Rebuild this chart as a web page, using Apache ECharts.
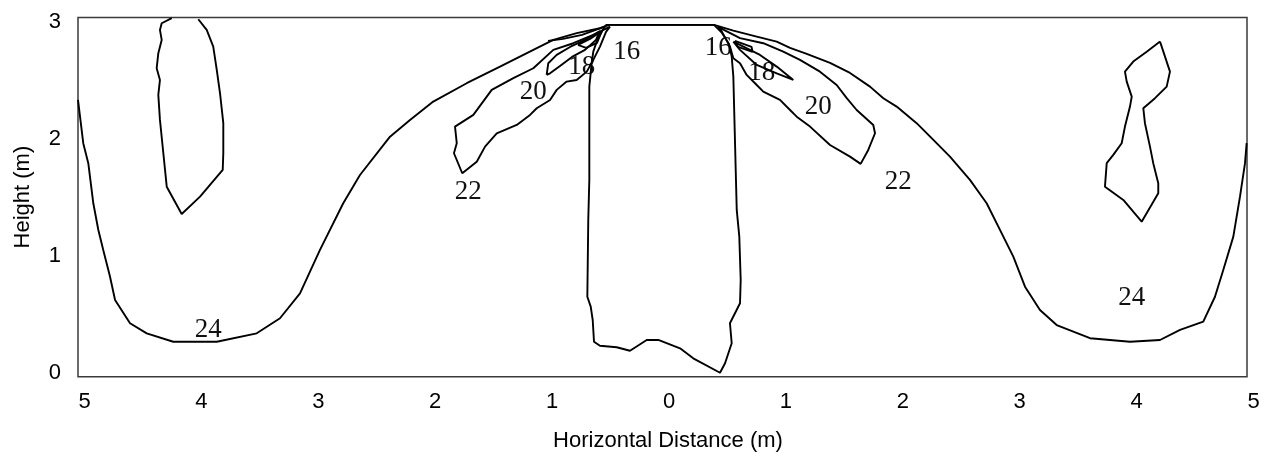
<!DOCTYPE html>
<html>
<head>
<meta charset="utf-8">
<script src="https://cdn.jsdelivr.net/npm/echarts@6/dist/echarts.min.js"></script>
<style>
  html, body { margin: 0; padding: 0; background: #fff; }
  #chart { width: 1272px; height: 466px; }
</style>
</head>
<body>
<div id="chart"></div>
<script>
// Axis tick positions (horizontal distance shown as absolute value either side of 0)
const xTickValues = [-5, -4, -3, -2, -1, 0, 1, 2, 3, 4, 5];
const yTickValues = [0, 1, 2, 3];

// Contour 24: U-shaped line spanning the whole section, passing along the top inlet
const contour24 = [
  [-5.000, 2.331], [-4.955, 1.961], [-4.912, 1.790], [-4.869, 1.447], [-4.826, 1.219],
  [-4.784, 1.048], [-4.726, 0.819], [-4.683, 0.620], [-4.555, 0.421], [-4.412, 0.335],
  [-4.185, 0.263], [-3.813, 0.263], [-3.471, 0.335], [-3.272, 0.464], [-3.101, 0.677],
  [-2.930, 1.048], [-2.731, 1.447], [-2.588, 1.689], [-2.331, 2.017], [-2.160, 2.160],
  [-1.961, 2.317], [-1.675, 2.474], [-1.390, 2.616], [-1.105, 2.759], [-0.934, 2.844],
  [-0.734, 2.902], [-0.535, 2.944], [-0.458, 2.973], [0.441, 2.973], [0.606, 2.924],
  [0.806, 2.873], [0.977, 2.830], [1.091, 2.776], [1.234, 2.725], [1.433, 2.648],
  [1.604, 2.562], [1.775, 2.445], [1.889, 2.346], [2.003, 2.274], [2.174, 2.132],
  [2.317, 1.989], [2.459, 1.846], [2.630, 1.647], [2.773, 1.447], [2.873, 1.247],
  [3.001, 0.991], [3.101, 0.734], [3.229, 0.535], [3.372, 0.406], [3.657, 0.293],
  [3.999, 0.263], [4.256, 0.278], [4.427, 0.364], [4.626, 0.435], [4.726, 0.648],
  [4.797, 0.877], [4.883, 1.162], [4.940, 1.504], [4.983, 1.790], [4.997, 1.961]
];

// Warm pocket near x = -4, open at the ceiling
const islandLeft = [
  [-4.198, 3.030], [-4.284, 2.987], [-4.299, 2.930], [-4.284, 2.844], [-4.313, 2.731],
  [-4.327, 2.602], [-4.299, 2.502], [-4.313, 2.374], [-4.299, 2.160], [-4.270, 1.875],
  [-4.241, 1.589], [-4.113, 1.356], [-3.956, 1.504], [-3.762, 1.732], [-3.757, 1.875],
  [-3.757, 2.132], [-3.785, 2.388], [-3.813, 2.588], [-3.843, 2.787], [-3.899, 2.930],
  [-3.971, 3.021]
];

// Warm pocket near x = 4 (closed)
const islandRight = [
  [4.256, 2.830], [4.341, 2.573], [4.313, 2.445], [4.213, 2.346], [4.113, 2.260],
  [4.127, 2.132], [4.170, 1.932], [4.198, 1.790], [4.241, 1.618], [4.241, 1.533],
  [4.099, 1.290], [3.942, 1.476], [3.785, 1.589], [3.800, 1.790], [3.856, 1.861],
  [3.928, 1.961], [3.956, 2.103], [3.999, 2.274], [4.014, 2.359], [3.971, 2.488],
  [3.956, 2.573], [4.027, 2.659], [4.142, 2.744], [4.256, 2.830]
];

// Contour 16: cold jet column below the inlet
const contour16 = [
  [-0.483, 2.973], [0.441, 2.973], [0.509, 2.904], [0.569, 2.810], [0.592, 2.701],
  [0.606, 2.530], [0.635, 1.390], [0.657, 1.162], [0.669, 0.791], [0.663, 0.592],
  [0.577, 0.421], [0.592, 0.250], [0.535, 0.079], [0.492, -0.002], [0.263, 0.121],
  [0.150, 0.207], [-0.036, 0.278], [-0.135, 0.278], [-0.278, 0.186], [-0.392, 0.216],
  [-0.535, 0.229], [-0.586, 0.263], [-0.597, 0.449], [-0.614, 0.563], [-0.643, 0.648],
  [-0.635, 1.305], [-0.626, 1.647], [-0.626, 2.445], [-0.606, 2.645], [-0.592, 2.744],
  [-0.552, 2.861], [-0.483, 2.973]
];

// Contour 22, left wedge
const wedge22Left = [
  [-0.449, 2.958], [-0.592, 2.887], [-0.763, 2.816], [-0.934, 2.759], [-1.105, 2.602],
  [-1.276, 2.517], [-1.461, 2.417], [-1.618, 2.203], [-1.775, 2.103], [-1.760, 1.961],
  [-1.784, 1.875], [-1.713, 1.704], [-1.589, 1.803], [-1.518, 1.932], [-1.418, 2.046],
  [-1.247, 2.117], [-1.133, 2.203], [-1.076, 2.260], [-0.962, 2.331], [-0.905, 2.417],
  [-0.820, 2.488], [-0.734, 2.502], [-0.648, 2.573], [-0.592, 2.673], [-0.535, 2.787],
  [-0.483, 2.913], [-0.449, 2.958]
];

// Contour 20, left
const loop20Left = [
  [-0.991, 2.545], [-0.977, 2.645], [-0.905, 2.716], [-0.791, 2.784], [-0.663, 2.844],
  [-0.535, 2.921], [-0.569, 2.844], [-0.663, 2.759], [-0.774, 2.699], [-0.877, 2.622],
  [-0.962, 2.559], [-0.991, 2.545]
];

// Contour 18, left
const loop18Left = [
  [-0.723, 2.802], [-0.620, 2.853], [-0.518, 2.921], [-0.560, 2.819], [-0.654, 2.776],
  [-0.723, 2.802]
];

// Thin sliver hugging the left side of the inlet
const sliverLeft = [
  [-0.979, 2.836], [-0.851, 2.853], [-0.689, 2.887], [-0.500, 2.956]
];

// Contour 20, right wedge
const wedge20Right = [
  [0.475, 2.956], [0.663, 2.859], [0.862, 2.816], [1.033, 2.744], [1.176, 2.673],
  [1.347, 2.573], [1.490, 2.459], [1.576, 2.346], [1.661, 2.245], [1.803, 2.117],
  [1.818, 2.046], [1.760, 1.903], [1.695, 1.784], [1.604, 1.846], [1.433, 1.946],
  [1.262, 2.103], [1.148, 2.188], [1.091, 2.245], [1.005, 2.331], [0.862, 2.402],
  [0.806, 2.459], [0.720, 2.545], [0.663, 2.645], [0.606, 2.688], [0.577, 2.787],
  [0.509, 2.913], [0.475, 2.956]
];

// Contour 18, right
const loop18Right = [
  [0.606, 2.830], [0.834, 2.716], [0.977, 2.616], [1.119, 2.502], [0.977, 2.559],
  [0.806, 2.630], [0.663, 2.759], [0.606, 2.830]
];

// Small closed loop at the right of the inlet
const loopSmallRight = [
  [0.620, 2.837], [0.762, 2.784], [0.770, 2.742], [0.646, 2.784], [0.620, 2.837]
];

// Contour level labels: text, x, y
const levelText = ['24', '22', '20', '18', '16', '16', '18', '20', '22', '24'];
const levelX = [-3.885, -1.661, -1.105, -0.691, -0.306, 0.477, 0.849, 1.333, 2.017, 4.014];
const levelY = [0.364, 1.547, 2.402, 2.616, 2.744, 2.773, 2.559, 2.274, 1.632, 0.635];

const contours = [
  contour24, islandLeft, islandRight, contour16, wedge22Left, loop20Left,
  loop18Left, sliverLeft, wedge20Right, loop18Right, loopSmallRight
];

const chart = echarts.init(document.getElementById('chart'), null, { renderer: 'canvas' });

const lineSeries = contours.map(pts => ({
  type: 'line',
  data: pts,
  showSymbol: false,
  symbol: 'none',
  smooth: false,
  clip: false,
  silent: true,
  lineStyle: { color: '#000', width: 1.9 }
}));

const labelSeries = {
  type: 'scatter',
  symbolSize: 1,
  silent: true,
  itemStyle: { color: 'transparent' },
  data: levelText.map((t, i) => [levelX[i], levelY[i], t]),
  label: {
    show: true,
    position: 'inside',
    formatter: p => p.value[2],
    fontFamily: '"Liberation Serif", "DejaVu Serif", serif',
    fontSize: 27,
    color: '#111',
    opacity: 1
  }
};

const axisFont = '"Liberation Sans", Arial, sans-serif';

chart.setOption({
  animation: false,
  backgroundColor: '#fff',
  grid: {
    left: 78, right: 25, top: 17.5, bottom: 89.3,
    show: true, borderColor: '#3a3a3a', borderWidth: 1.5,
    backgroundColor: 'transparent'
  },
  xAxis: {
    type: 'value',
    min: -5, max: 5,
    name: 'Horizontal Distance (m)',
    nameLocation: 'middle',
    nameGap: 53,
    nameTextStyle: { fontFamily: axisFont, fontSize: 22, color: '#000', padding: [0, 0, 0, 11] },
    axisLine: { show: false },
    axisTick: { show: false },
    splitLine: { show: false },
    axisLabel: {
      customValues: xTickValues,
      formatter: v => String(Math.abs(v)),
      margin: 14,
      padding: [0, 0, 0, 13],
      fontFamily: axisFont, fontSize: 22, color: '#000'
    }
  },
  yAxis: {
    type: 'value',
    min: -0.036, max: 3.036,
    name: 'Height (m)',
    nameLocation: 'middle',
    nameGap: 44,
    nameTextStyle: { fontFamily: axisFont, fontSize: 22, color: '#000' },
    axisLine: { show: false },
    axisTick: { show: false },
    splitLine: { show: false },
    axisLabel: {
      customValues: yTickValues,
      margin: 17,
      fontFamily: axisFont, fontSize: 22, color: '#000'
    }
  },
  series: [...lineSeries, labelSeries]
});
</script>
</body>
</html>
